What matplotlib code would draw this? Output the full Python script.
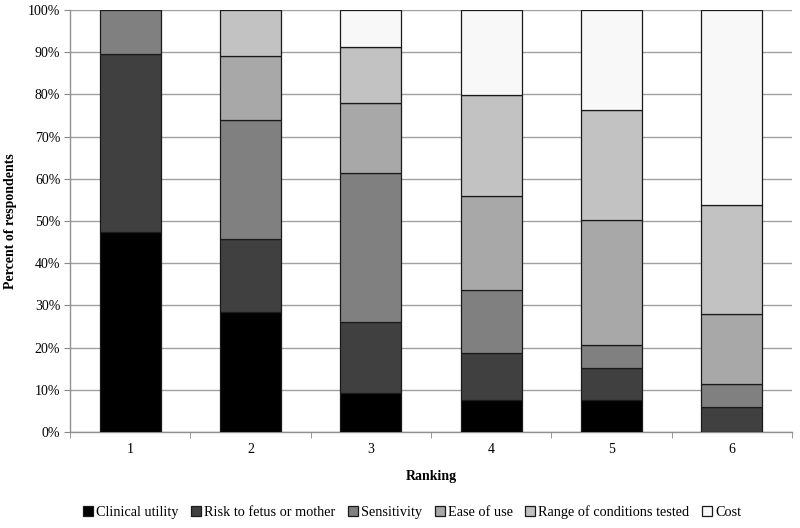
import matplotlib
matplotlib.use("Agg")
import matplotlib.pyplot as plt
import numpy as np

plt.rcParams['font.family'] = ['Liberation Serif', 'DejaVu Serif']

rankings = ["1", "2", "3", "4", "5", "6"]
series_names = ["Clinical utility", "Risk to fetus or mother", "Sensitivity",
                "Ease of use", "Range of conditions tested", "Cost"]
clinical = [47.5, 28.5, 9.3, 7.6, 7.6, 0.0]
risk = [42.0, 17.2, 16.8, 11.0, 7.5, 5.8]
sensitivity = [10.5, 28.2, 35.3, 15.0, 5.4, 5.6]
ease = [0.0, 15.2, 16.6, 22.2, 29.7, 16.6]
range_cond = [0.0, 10.9, 13.2, 24.1, 26.1, 25.9]
cost = [0.0, 0.0, 8.8, 20.1, 23.7, 46.1]
colors = ["#000000", "#404040", "#808080", "#a8a8a8", "#c2c2c2", "#f8f8f8"]

data = [clinical, risk, sensitivity, ease, range_cond, cost]

fig = plt.figure(figsize=(8, 5.28), dpi=100)
ax = fig.add_axes([0.0875, 0.182, 0.9025, 0.799])

x = np.arange(len(rankings))
bottom = np.zeros(len(rankings))
handles = []
for name, vals, col in zip(series_names, data, colors):
    vals = np.array(vals)
    lws = [0.9 if v > 0 else 0 for v in vals]
    b = ax.bar(x, vals, width=0.505, bottom=bottom, color=col,
               edgecolor="#1a1a1a", linewidth=lws, label=name, zorder=3)
    handles.append(b)
    bottom += vals

ax.set_xlim(-0.5, len(rankings) - 0.5)
ax.set_ylim(0, 100)
ax.set_yticks(np.arange(0, 101, 10))
ax.set_yticklabels([f"{v}%" for v in range(0, 101, 10)], fontsize=10)
ax.set_xticks(x)
ax.set_xticklabels(rankings, fontsize=10)
ax.set_xticks(np.arange(-0.5, len(rankings), 1), minor=True)
ax.tick_params(axis='x', which='major', length=0, pad=8)
ax.tick_params(axis='x', which='minor', length=4, color="#888888")
ax.tick_params(axis='y', length=4, color="#888888", pad=3)

ax.yaxis.grid(True, color="#a0a0a0", linewidth=1.0, zorder=0)
ax.set_axisbelow(True)
for s in ["top", "right"]:
    ax.spines[s].set_visible(False)
for s in ["left", "bottom"]:
    ax.spines[s].set_color("#909090")
    ax.spines[s].set_linewidth(1.0)

ax.set_ylabel("Percent of respondents", fontsize=10, fontweight="bold", labelpad=8)
ax.set_xlabel("Ranking", fontsize=10, fontweight="bold", labelpad=10)

leg_handles = [plt.Rectangle((0, 0), 1, 1, facecolor=c, edgecolor="#1a1a1a", linewidth=0.9)
               for c in colors]
fig.legend(handles=leg_handles, labels=series_names, loc="center",
           bbox_to_anchor=(0.515, 0.03), ncol=6, frameon=False, fontsize=10.3,
           handlelength=0.7, handleheight=0.7, handletextpad=0.2,
           columnspacing=0.9)

fig.savefig("out.png", dpi=100)
